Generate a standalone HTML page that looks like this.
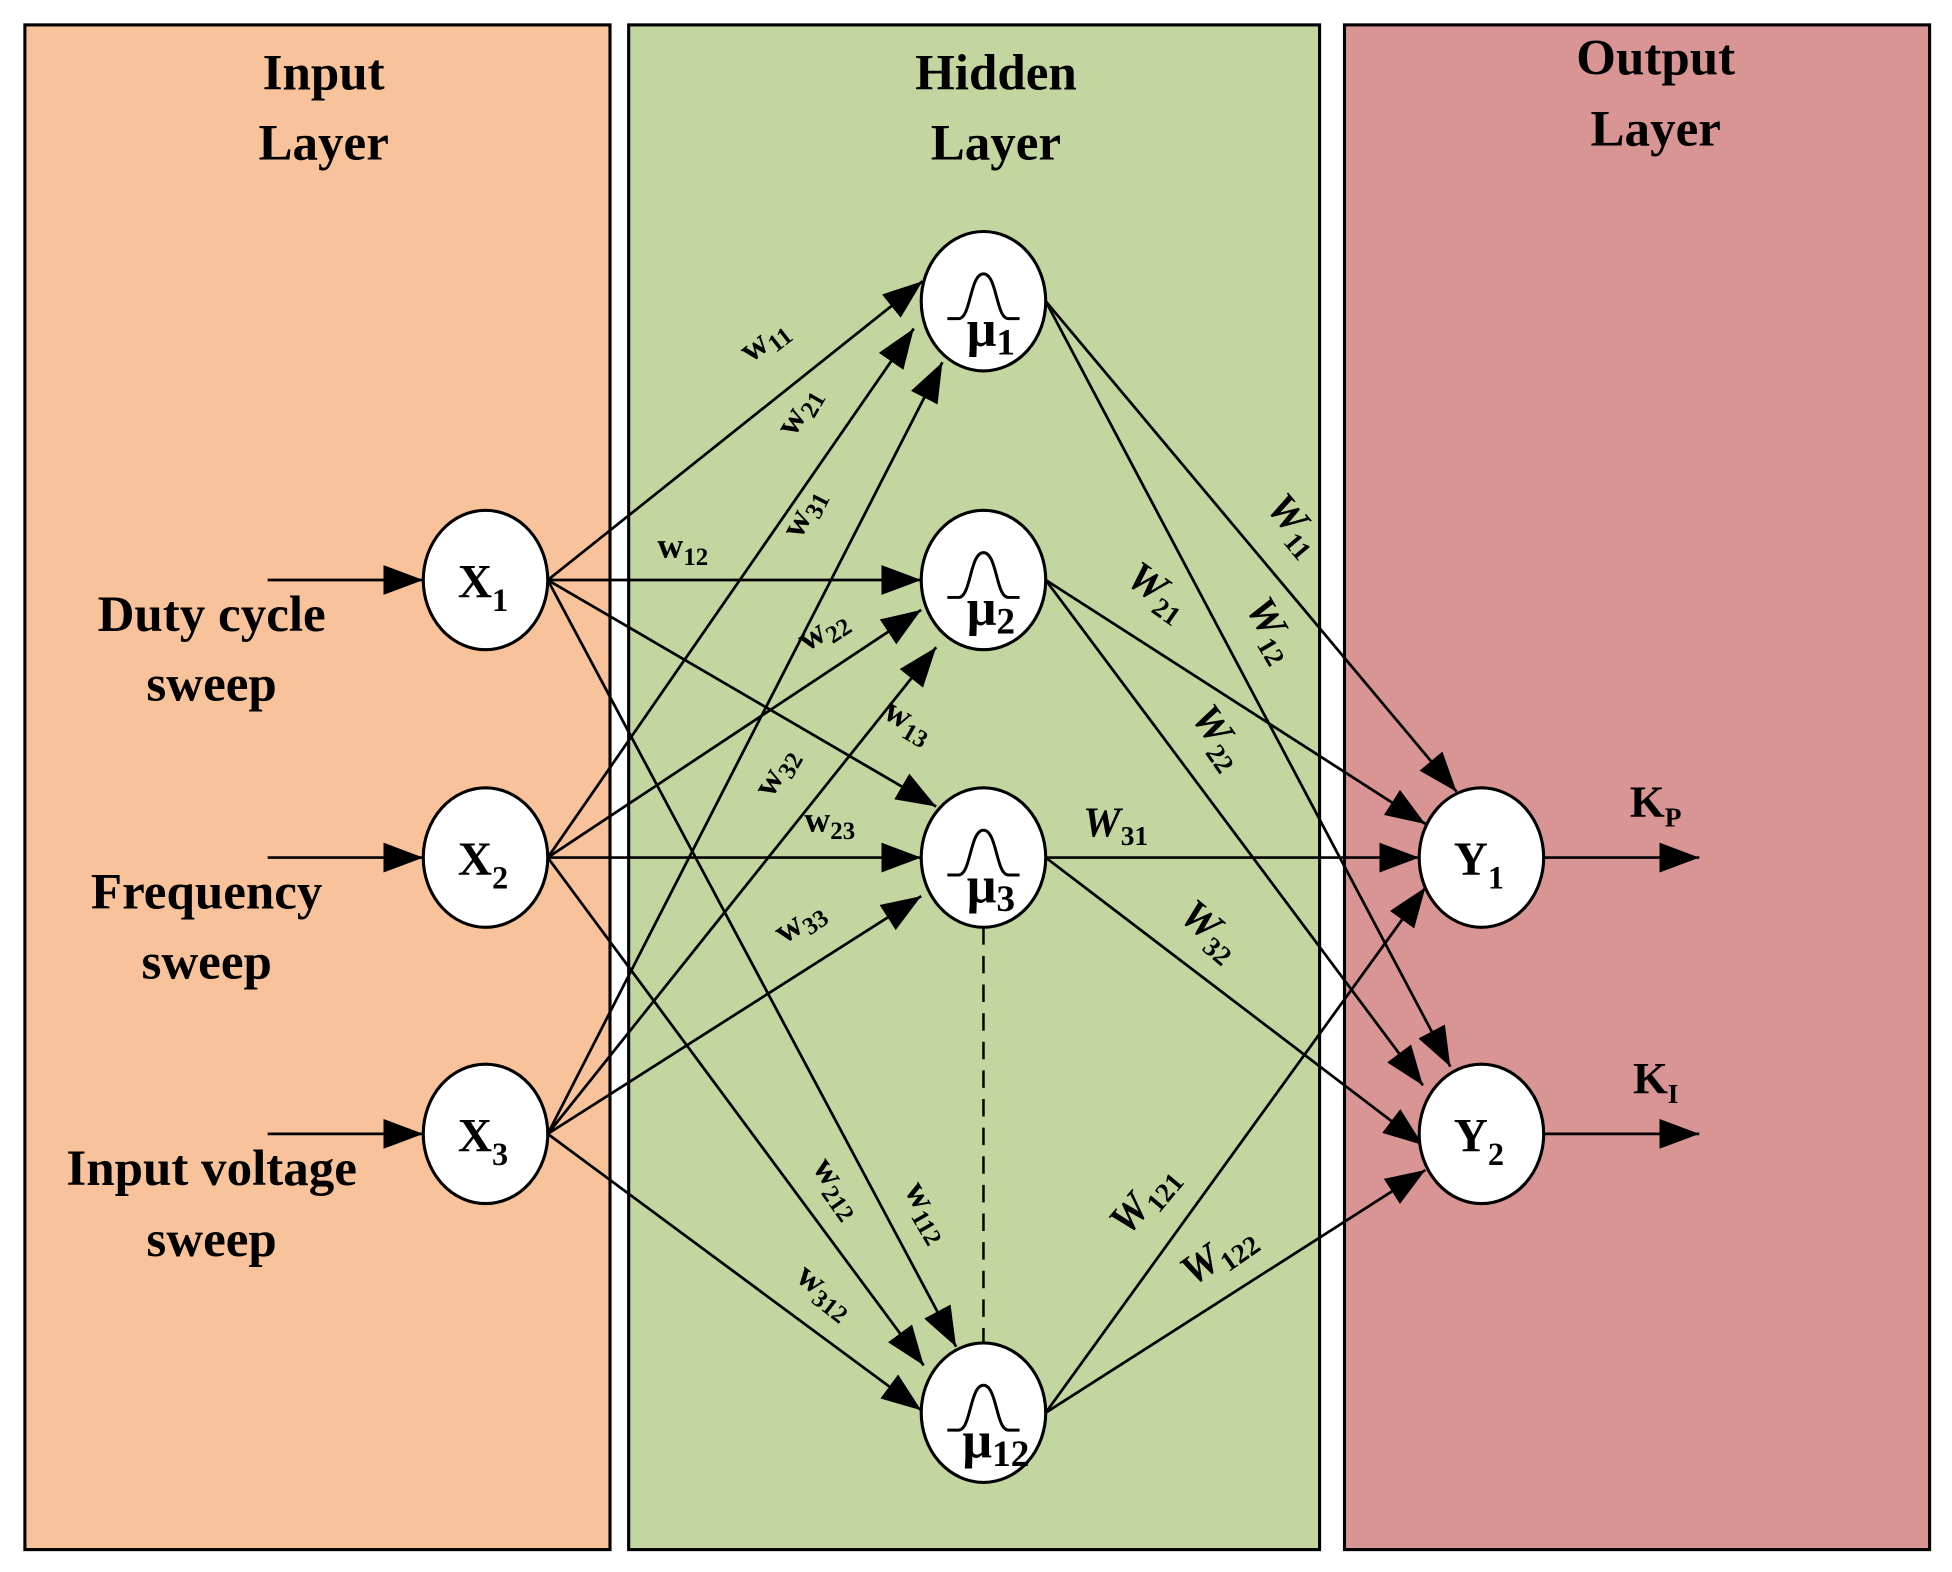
<!DOCTYPE html>
<html><head><meta charset="utf-8"><style>
html,body{margin:0;padding:0;background:#fff;}
svg{display:block;}
text{font-family:"Liberation Serif",serif;fill:#000;}
.t{font-size:41px;font-weight:bold;text-anchor:middle;}
.n{font-size:38px;font-weight:bold;text-anchor:middle;}
.ns{font-size:26px;font-weight:bold;}
.w{font-size:29px;font-weight:bold;}
.ws{font-size:20px;font-weight:bold;}
.W{font-size:34px;font-weight:bold;font-style:italic;}
.Ws{font-size:22px;font-style:normal;}
</style></head><body>
<svg width="1952" height="1572" viewBox="0 0 1568 1263" preserveAspectRatio="none" xmlns="http://www.w3.org/2000/svg">
<defs>
<marker id="a" markerUnits="userSpaceOnUse" markerWidth="32" markerHeight="24" refX="32" refY="12" orient="auto">
<path d="M0,0 L32,12 L0,24 Z" fill="#000"/>
</marker>
</defs>
<rect x="0" y="0" width="1568" height="1263" fill="#fff"/>
<rect x="20" y="20" width="470" height="1225" fill="#F8C39A" stroke="#000" stroke-width="2.5"/>
<rect x="505" y="20" width="555" height="1225" fill="#C4D6A0" stroke="#000" stroke-width="2.5"/>
<rect x="1080" y="20" width="470" height="1225" fill="#D99594" stroke="#000" stroke-width="2.5"/>

<text class="t" x="260" y="72">Input</text><text class="t" x="260" y="128">Layer</text>
<text class="t" x="800" y="72">Hidden</text><text class="t" x="800" y="128">Layer</text>
<text class="t" x="1330" y="60">Output</text><text class="t" x="1330" y="117">Layer</text>

<text class="t" x="170" y="507">Duty cycle</text><text class="t" x="170" y="563">sweep</text>
<text class="t" x="166" y="730">Frequency</text><text class="t" x="166" y="786">sweep</text>
<text class="t" x="170" y="952">Input voltage</text><text class="t" x="170" y="1009">sweep</text>

<g stroke="#000" stroke-width="2.2" fill="none" marker-end="url(#a)">
<line x1="215" y1="466" x2="340" y2="466"/>
<line x1="215" y1="689" x2="340" y2="689"/>
<line x1="215" y1="911" x2="340" y2="911"/>
<line x1="1240" y1="689" x2="1365" y2="689"/>
<line x1="1240" y1="911" x2="1365" y2="911"/>
<line x1="440" y1="466" x2="741" y2="226"/>
<line x1="440" y1="689" x2="734" y2="264"/>
<line x1="440" y1="911" x2="757" y2="291"/>
<line x1="440" y1="466" x2="740" y2="466"/>
<line x1="440" y1="689" x2="740" y2="490"/>
<line x1="440" y1="911" x2="752" y2="520"/>
<line x1="440" y1="466" x2="752" y2="648"/>
<line x1="440" y1="689" x2="740" y2="689"/>
<line x1="440" y1="911" x2="740" y2="720"/>
<line x1="440" y1="466" x2="768" y2="1082"/>
<line x1="440" y1="689" x2="742" y2="1097"/>
<line x1="440" y1="911" x2="740" y2="1133"/>
<line x1="840" y1="242" x2="1170" y2="636"/>
<line x1="840" y1="242" x2="1165" y2="857"/>
<line x1="840" y1="466" x2="1145" y2="662"/>
<line x1="840" y1="466" x2="1143" y2="872"/>
<line x1="840" y1="689" x2="1140" y2="689"/>
<line x1="840" y1="689" x2="1143" y2="920"/>
<line x1="840" y1="1135" x2="1145" y2="713"/>
<line x1="840" y1="1135" x2="1145" y2="940"/>
</g>
<line x1="790" y1="745" x2="790" y2="1079" stroke="#000" stroke-width="2" stroke-dasharray="14,9"/>

<g fill="#fff" stroke="#000" stroke-width="2.5">
<ellipse cx="390" cy="466" rx="50" ry="56"/>
<ellipse cx="390" cy="689" rx="50" ry="56"/>
<ellipse cx="390" cy="911" rx="50" ry="56"/>
<ellipse cx="790" cy="242" rx="50" ry="56"/>
<ellipse cx="790" cy="466" rx="50" ry="56"/>
<ellipse cx="790" cy="689" rx="50" ry="56"/>
<ellipse cx="790" cy="1135" rx="50" ry="56"/>
<ellipse cx="1190" cy="689" rx="50" ry="56"/>
<ellipse cx="1190" cy="911" rx="50" ry="56"/>
</g>

<text class="n" x="388" y="480">X<tspan class="ns" dy="11">1</tspan></text>
<text class="n" x="388" y="703">X<tspan class="ns" dy="11">2</tspan></text>
<text class="n" x="388" y="925">X<tspan class="ns" dy="11">3</tspan></text>
<text class="n" x="1188" y="703">Y<tspan class="ns" dy="11">1</tspan></text>
<text class="n" x="1188" y="925">Y<tspan class="ns" dy="11">2</tspan></text>

<g stroke="#000" stroke-width="2.4" fill="none">
<path d="M761,256 L770,256 C780,256 779,220 790,220 C801,220 800,256 810,256 L819,256"/>
<path d="M761,480 L770,480 C780,480 779,444 790,444 C801,444 800,480 810,480 L819,480"/>
<path d="M761,703 L770,703 C780,703 779,667 790,667 C801,667 800,703 810,703 L819,703"/>
<path d="M761,1149 L770,1149 C780,1149 779,1113 790,1113 C801,1113 800,1149 810,1149 L819,1149"/>
</g>
<text class="n" x="796" y="278" style="font-size:42px">μ<tspan class="ns" dy="7" style="font-size:30px">1</tspan></text>
<text class="n" x="796" y="502" style="font-size:42px">μ<tspan class="ns" dy="7" style="font-size:30px">2</tspan></text>
<text class="n" x="796" y="725" style="font-size:42px">μ<tspan class="ns" dy="7" style="font-size:30px">3</tspan></text>
<text class="n" x="800" y="1171" style="font-size:42px">μ<tspan class="ns" dy="7" style="font-size:30px">12</tspan></text>

<text class="n" x="1330" y="656" style="font-size:36px">K<tspan class="ns" dy="8" style="font-size:22px">P</tspan></text>
<text class="n" x="1330" y="878" style="font-size:36px">K<tspan class="ns" dy="8" style="font-size:22px">I</tspan></text>

<g class="w">
<text transform="translate(603,292) rotate(-38)">w<tspan class="ws" dy="6">11</tspan></text>
<text transform="translate(638,352) rotate(-60)">w<tspan class="ws" dy="6">21</tspan></text>
<text transform="translate(643,434) rotate(-63)">w<tspan class="ws" dy="6">31</tspan></text>
<text transform="translate(528,448)">w<tspan class="ws" dy="6">12</tspan></text>
<text transform="translate(648,524) rotate(-33)">w<tspan class="ws" dy="6">22</tspan></text>
<text transform="translate(708,576) rotate(30)">w<tspan class="ws" dy="6">13</tspan></text>
<text transform="translate(620,642) rotate(-60)">w<tspan class="ws" dy="6">32</tspan></text>
<text transform="translate(646,668)">w<tspan class="ws" dy="6">23</tspan></text>
<text transform="translate(630,759) rotate(-35)">w<tspan class="ws" dy="6">33</tspan></text>
<text transform="translate(652,938) rotate(55)">w<tspan class="ws" dy="6">212</tspan></text>
<text transform="translate(726,956) rotate(60)">w<tspan class="ws" dy="6">112</tspan></text>
<text transform="translate(638,1028) rotate(38)">w<tspan class="ws" dy="6">312</tspan></text>
</g>
<g class="W">
<text transform="translate(1016,408) rotate(50)">W<tspan class="Ws" dy="7">11</tspan></text>
<text transform="translate(903,468) rotate(35)">W<tspan class="Ws" dy="7">21</tspan></text>
<text transform="translate(1000,488) rotate(60)">W<tspan class="Ws" dy="7">12</tspan></text>
<text transform="translate(956,576) rotate(55)">W<tspan class="Ws" dy="7">22</tspan></text>
<text transform="translate(870,672)">W<tspan class="Ws" dy="7">31</tspan></text>
<text transform="translate(946,738) rotate(40)">W<tspan class="Ws" dy="7">32</tspan></text>
<text transform="translate(906,994) rotate(-50)">W<tspan class="Ws" dy="7">121</tspan></text>
<text transform="translate(958,1034) rotate(-35)">W<tspan class="Ws" dy="7">122</tspan></text>
</g>
</svg>
</body></html>
